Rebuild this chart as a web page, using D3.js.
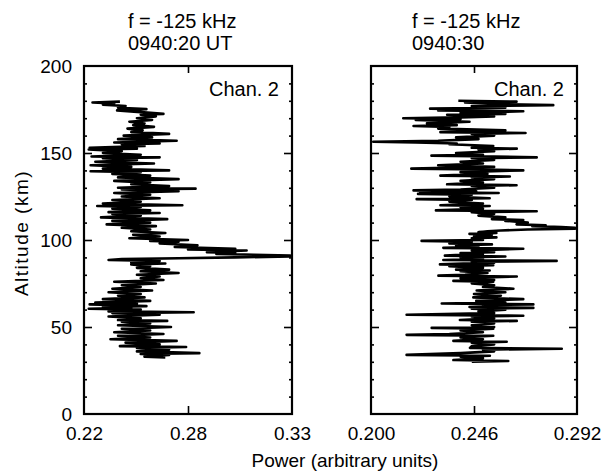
<!DOCTYPE html>
<html><head><meta charset="utf-8">
<script src="https://cdn.jsdelivr.net/npm/d3@7"></script>
<style>
html,body{margin:0;padding:0;background:#fff;}
svg text{font-family:"Liberation Sans",Arial,Helvetica,sans-serif;fill:#000;}
</style></head>
<body><svg id="c" width="602" height="473"></svg>
<script>
// ---- data ----
const altitudeTicks = [0, 50, 100, 150, 200];
const leftXTicks = [0.22, 0.275, 0.33];
const leftXLabels = ["0.22", "0.28", "0.33"];
const rightXTicks = [0.200, 0.246, 0.292];
const rightXLabels = ["0.200", "0.246", "0.292"];
const titles = [["f = -125 kHz", "0940:20 UT"], ["f = -125 kHz", "0940:30"]];
const channelLabel = "Chan. 2";
const yTitle = "Altitude (km)";
const xTitle = "Power (arbitrary units)";

// [altitude km, power]
const leftProfile = [
[179.5,0.2390],[179.0,0.2245],[178.5,0.2360],[177.8,0.2300],[177,0.2420],[176,0.2380],[175.2,0.2530],[174.5,0.2375],[173.5,0.2500],[172.5,0.2620],[172,0.2500],[171,0.2580],[170,0.2480],[169,0.2560],[168,0.2440],[167,0.2520],[166,0.2460],[165,0.2570],[164,0.2430],[163,0.2510],[162,0.2450],[161,0.2650],[160,0.2410],[159,0.2560],[158,0.2380],[157,0.2690],[156,0.2360],[155.5,0.2600],[155,0.2400],[154,0.2520],[153,0.2230],[152.5,0.2480],[152,0.2225],[151,0.2400],[150,0.2300],[149,0.2500],[148,0.2240],[147.5,0.2600],[147,0.2300],[146,0.2480],[145,0.2260],[144,0.2570],[143,0.2235],[142,0.2450],[141,0.2300],[140,0.2650],[139.5,0.2235],[139,0.2500],[138,0.2350],[137,0.2550],[136,0.2380],[135,0.2700],[134,0.2360],[133,0.2550],[132,0.2450],[131,0.2650],[130,0.2380],[129.5,0.2790],[129,0.2400],
[128,0.2700],[127,0.2360],[126,0.2550],[125,0.2400],[124,0.2600],[123,0.2350],[122,0.2500],[121,0.2300],[120,0.2720],[119.5,0.2270],[119,0.2500],[118,0.2350],[117,0.2550],[116,0.2330],[115.5,0.2600],[115,0.2350],[114,0.2500],[113,0.2290],[112,0.2640],[111,0.2350],[110,0.2550],[109,0.2320],[108,0.2580],[107,0.2400],[106,0.2550],[105,0.2450],[104,0.2630],[103,0.2460],[102,0.2600],[101,0.2440],[100,0.2750],[99.5,0.2550],[99,0.2700],[98,0.2600],[97,0.2800],[96,0.2680],[95,0.3000],[94.5,0.2750],[94,0.3060],[93,0.2850],[92.5,0.3000],[92,0.2900],[91.5,0.3100],[91,0.3290],[90.5,0.3290],[90,0.3000],[89.5,0.2700],[89,0.2400],[88.5,0.2330],[88,0.2600],[87,0.2450],[86.5,0.2630],[86,0.2450],[85,0.2550],[84,0.2480],[83,0.2650],[82,0.2500],[81,0.2700],[80,0.2480],[79,0.2600],[78,0.2500],[77,0.2620],[76,0.2360],[75,0.2580],[74,0.2400],[73,0.2500],[72,0.2350],[71,0.2560],[70,0.2330],[69,0.2500],[68,0.2380],[67,0.2520],[66,0.2300],[65,0.2550],[64,0.2260],[63.5,0.2480],[63,0.2230],[62.5,0.2400],
[62,0.2530],[61.5,0.2300],[61,0.2450],[60.5,0.2225],[60,0.2500],[59,0.2330],[58.5,0.2780],[58,0.2350],[57,0.2600],[56,0.2330],[55,0.2500],[54,0.2380],[53.5,0.2640],[53,0.2400],[52,0.2550],[51,0.2380],[50,0.2660],[49,0.2400],[48,0.2550],[47,0.2360],[46,0.2620],[45,0.2380],[44,0.2550],[43,0.2340],[42,0.2690],[41,0.2420],[40,0.2600],[39,0.2390],[38.5,0.2740],[38,0.2480],[37,0.2650],[36,0.2480],[35,0.2810],[34.5,0.2500],[34,0.2650],[33,0.2520],[32.5,0.2630]
];

const rightProfile = [
[180,0.2390],[179.5,0.2650],[179,0.2420],[178,0.2600],[177.5,0.2814],[177,0.2450],[176,0.2600],[175.5,0.2264],[175,0.2500],[174.5,0.2300],[174,0.2680],[173,0.2400],[172.5,0.2600],[172,0.2340],[171,0.2550],[170.5,0.2400],[170,0.2144],[169.5,0.2400],[169,0.2200],[168,0.2440],[167,0.2250],[166,0.2383],[165.5,0.2190],[165,0.2350],[164,0.2300],[163,0.2600],[162,0.2310],[161.5,0.2690],[161,0.2450],[160,0.2550],[159,0.2380],[158,0.2480],[157,0.2300],[156.5,0.2010],[156,0.2200],[155.5,0.2383],[155,0.2350],[154,0.2546],[153,0.2450],[152.5,0.2651],[152,0.2480],[151,0.2550],[150,0.2380],[149,0.2500],[148.5,0.2270],[148,0.2550],[147.5,0.2740],[147,0.2450],[146,0.2550],[145,0.2400],[144,0.2500],[143,0.2300],[142,0.2550],[141,0.2180],[140.5,0.2500],[140,0.2680],[139,0.2400],[138,0.2520],[137,0.2310],[136.5,0.2620],[136,0.2450],[135,0.2550],[134,0.2400],[133,0.2500],[132,0.2340],[131.5,0.2650],[131,0.2450],[130,0.2550],[129,0.2400],[128.5,0.2190],[128,0.2470],[127.5,0.2220],[127,0.2570],[126.5,0.2210],[126,0.2450],[125,0.2350],[124,0.2530],[123.5,0.2204],[123,0.2450],[122,0.2350],[121,0.2500],[120,0.2310],[119.5,0.2530],[119,0.2400],[118,0.2500],[117,0.2290],[116.5,0.2740],[116,0.2450],[115,0.2550],[114,0.2480],[113,0.2600],[112,0.2540],[111.5,0.2680],[111,0.2600],[110,0.2700],[109,0.2650],[108.5,0.2780],[108,0.2720],[107.5,0.2850],[107,0.2911],[106.5,0.2911],[106,0.2700],[105.5,0.2580],[105,0.2520],[104.5,0.2480],[104,0.2560],[103.5,0.2440],[103,0.2540],[102,0.2460],[101.5,0.2560],[101,0.2450],[100,0.2500],[99.5,0.2226],[99,0.2450],[98,0.2350],[97.5,0.2540],[97,0.2380],[96,0.2480],[95.5,0.2323],[95,0.2680],[94,0.2450],[93,0.2550],[92.5,0.2400],[92,0.2500],[91,0.2330],[90.5,0.2600],[90,0.2400],[89,0.2500],[88.5,0.2323],[88,0.2829],[87.5,0.2450],[87,0.2550],[86,0.2308],[85.5,0.2546],[85,0.2350],[84,0.2500],[83,0.2380],[82.5,0.2530],[82,0.2400],[81,0.2520],[80,0.2420],[79.5,0.2301],[79,0.2651],[78,0.2400],[77,0.2550],[76.5,0.2368],[76,0.2546],[75,0.2450],[74,0.2550],[73,0.2500],[72,0.2636],[71,0.2472],[70,0.2600],[69,0.2460],[68,0.2580],[67,0.2457],[66,0.2680],[65,0.2470],[64,0.2600],[63.5,0.2316],[63,0.2725],[62.5,0.2500],[62,0.2600],[61.5,0.2440],[61,0.2725],[60.5,0.2450],[60,0.2600],[59,0.2480],[58,0.2550],[57,0.2159],[56.5,0.2680],[56,0.2450],[55,0.2550],[54,0.2397],[53.5,0.2651],[53,0.2450],[52,0.2550],[51,0.2450],[50,0.2550],[49.5,0.2271],[49,0.2546],[48,0.2400],[47,0.2500],[46,0.2350],[45.5,0.2159],[45,0.2546],[44,0.2400],[43,0.2500],[42,0.2368],[41.5,0.2606],[41,0.2450],[40,0.2550],[39,0.2450],[38,0.2442],[37.5,0.2852],[37,0.2500],[36,0.2550],[35,0.2400],[34,0.2159],[33.5,0.2531],[33,0.2400],[32,0.2500],[31,0.2368],[30.5,0.2613],[30,0.2450]
];

// ---- drawing ----
const svg = d3.select("#c");
const yTop = 66, yBottom = 414;
const y = d3.scaleLinear().domain([0, 200]).range([yBottom, yTop]);

const panels = [
  {x: d3.scaleLinear().domain([0.22, 0.33]).range([84, 292]), ticks: leftXTicks, labels: leftXLabels, data: leftProfile, title: titles[0], titleX: 128, yLabels: true},
  {x: d3.scaleLinear().domain([0.200, 0.292]).range([371, 577]), ticks: rightXTicks, labels: rightXLabels, data: rightProfile, title: titles[1], titleX: 412, yLabels: false}
];

const minorTicks = d3.range(10, 200, 10).filter(v => v % 50 !== 0);
const majorTicks = [50, 100, 150];
const font = '"Liberation Sans",Arial,sans-serif';

panels.forEach(p => {
  const [x0, x1] = p.x.range();
  const g = svg.append("g");

  // trace
  const line = d3.line().x(d => p.x(d[1])).y(d => y(d[0]));
  g.append("path").datum(p.data).attr("d", line)
    .attr("fill", "none").attr("stroke", "#000").attr("stroke-width", 2.6)
    .attr("stroke-linejoin", "round");

  // inward ticks
  const styleAxis = sel => { sel.select(".domain").remove(); sel.selectAll("line").attr("stroke", "#000").attr("stroke-width", 1.6); sel.selectAll("text").remove(); };
  g.append("g").attr("transform", `translate(${x0},0)`).call(d3.axisLeft(y).tickValues(majorTicks).tickSize(-8)).call(styleAxis);
  g.append("g").attr("transform", `translate(${x1},0)`).call(d3.axisRight(y).tickValues(majorTicks).tickSize(-8)).call(styleAxis);
  g.append("g").attr("transform", `translate(${x0},0)`).call(d3.axisLeft(y).tickValues(minorTicks).tickSize(-3)).call(styleAxis);
  g.append("g").attr("transform", `translate(${x1},0)`).call(d3.axisRight(y).tickValues(minorTicks).tickSize(-3)).call(styleAxis);
  g.append("g").attr("transform", `translate(0,${yBottom})`).call(d3.axisBottom(p.x).tickValues([p.ticks[1]]).tickSize(-8)).call(styleAxis);
  g.append("g").attr("transform", `translate(0,${yTop})`).call(d3.axisTop(p.x).tickValues([p.ticks[1]]).tickSize(-7)).call(styleAxis);

  // frame
  g.append("rect").attr("x", x0).attr("y", yTop).attr("width", x1 - x0).attr("height", yBottom - yTop)
    .attr("fill", "none").attr("stroke", "#000").attr("stroke-width", 2.2);

  // x tick labels
  const xa = g.append("g").attr("transform", `translate(0,${yBottom})`)
    .call(d3.axisBottom(p.x).tickValues(p.ticks).tickSize(0).tickPadding(13).tickFormat((d, i) => p.labels[i]));
  xa.select(".domain").remove();
  xa.selectAll("text").attr("font-size", 19).style("font-family", font);

  // y tick labels
  if (p.yLabels) {
    const ya = g.append("g").attr("transform", `translate(${x0},0)`)
      .call(d3.axisLeft(y).tickValues(altitudeTicks).tickSize(0).tickPadding(12));
    ya.select(".domain").remove();
    ya.selectAll("text").attr("font-size", 19).style("font-family", font);
  }

  // titles
  g.append("text").attr("x", p.titleX).attr("y", 28).attr("font-size", 20).text(p.title[0]);
  g.append("text").attr("x", p.titleX).attr("y", 50).attr("font-size", 20).text(p.title[1]);

  // channel label
  g.append("text").attr("x", x1 - 13).attr("y", 96).attr("text-anchor", "end").attr("font-size", 20).text(channelLabel);
});

svg.append("text").attr("transform", "translate(28,233) rotate(-90)").attr("text-anchor", "middle")
  .attr("font-size", 19).attr("letter-spacing", 1.5).text(yTitle);
svg.append("text").attr("x", 345).attr("y", 467).attr("text-anchor", "middle").attr("font-size", 19).text(xTitle);
</script></body></html>
